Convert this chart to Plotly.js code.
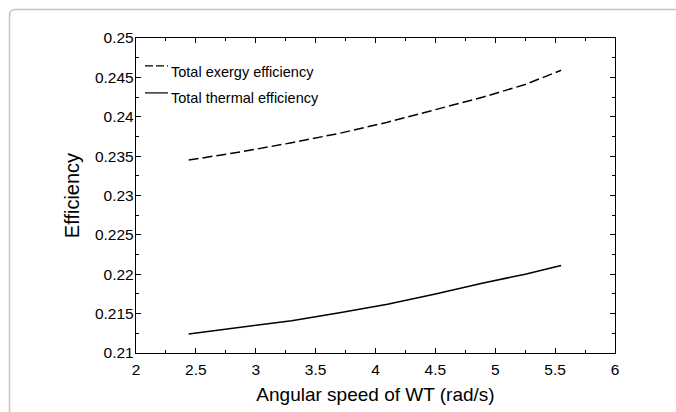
<!DOCTYPE html>
<html>
<head>
<meta charset="utf-8">
<script src="https://cdn.plot.ly/plotly-3.0.1.min.js"></script>
<style>html,body{margin:0;padding:0;background:#fff;}</style>
</head>
<body>
<div id="chart" style="width:676px;height:412px;"></div>
<script>
// ---- data ----
const angularSpeed = [2.44, 2.9, 3.3, 3.7, 4.1, 4.5, 4.9, 5.25, 5.55];
const exergyEff   = [0.2345, 0.2356, 0.2367, 0.2379, 0.2393, 0.2409, 0.2425, 0.2441, 0.2459];
const thermalEff  = [0.2124, 0.2133, 0.2141, 0.2151, 0.2162, 0.2175, 0.2189, 0.2200, 0.2211];
const seriesNames = ["Total exergy efficiency", "Total thermal efficiency"];
const xTitle = "Angular speed of WT (rad/s)";
const yTitle = "Efficiency";

// ---- layout geometry (pixels) ----
const W = 676, H = 412;
const L = 136, R = 615, T = 38, B = 353.5;
const pw = R - L, ph = B - T;
const px = x => (x - L) / pw;
const py = y => (B - y) / ph;

const font = "Arial, 'Liberation Sans', Helvetica, sans-serif";

const traces = [
  {x: angularSpeed, y: exergyEff, name: seriesNames[0], mode: "lines",
   line: {color: "#000", width: 1.5, dash: "10px,4px"}, showlegend: false},
  {x: angularSpeed, y: thermalEff, name: seriesNames[1], mode: "lines",
   line: {color: "#000", width: 1.5}, showlegend: false}
];

// outer card border (rounded top-left corner)
const bx = px(9.5), by = py(9.5), rx = 6 / pw, ry = 6 / ph;
const borderPath = `M ${bx},${py(430)} L ${bx},${by - ry} Q ${bx},${by} ${bx + rx},${by} L ${px(690)},${by}`;

const axisCommon = {
  showline: true, linecolor: "#000", linewidth: 1.2, mirror: "allticks",
  ticks: "inside", ticklen: 5, tickwidth: 1, tickcolor: "#000",
  showgrid: false, zeroline: false,
  tickfont: {family: font, size: 15.5, color: "#000"}
};

const layout = {
  width: W, height: H,
  margin: {l: L, r: W - R, t: T, b: H - B, pad: 0},
  paper_bgcolor: "#fff", plot_bgcolor: "#fff",
  font: {family: font, color: "#000"},
  xaxis: Object.assign({}, axisCommon, {
    range: [2, 6], dtick: 0.5, tick0: 2, ticklabelstandoff: 2,
    minor: {ticks: "inside", ticklen: 3, dtick: 0.25, tickcolor: "#000", showgrid: false},
    title: {text: xTitle, font: {family: font, size: 19, color: "#000"}, standoff: 11}
  }),
  yaxis: Object.assign({}, axisCommon, {
    range: [0.21, 0.25], dtick: 0.005, tick0: 0.21, ticklabelstandoff: -2,
    minor: {ticks: "inside", ticklen: 3, dtick: 0.0025, tickcolor: "#000", showgrid: false},
    title: {text: yTitle, font: {family: font, size: 20, color: "#000"}, standoff: 10}
  }),
  shapes: [
    {type: "path", xref: "paper", yref: "paper", path: borderPath,
     line: {color: "#c4c4c4", width: 1.5}},
    {type: "line", xref: "paper", yref: "paper", x0: px(145), x1: px(168), y0: py(66), y1: py(66),
     line: {color: "#000", width: 1.2, dash: "8px,3px"}},
    {type: "line", xref: "paper", yref: "paper", x0: px(145), x1: px(168), y0: py(93), y1: py(93),
     line: {color: "#000", width: 1.2}}
  ],
  annotations: [
    {xref: "paper", yref: "paper", x: px(169), y: py(71.7), xanchor: "left", yanchor: "middle",
     text: seriesNames[0], showarrow: false, font: {family: font, size: 14.5, color: "#000"}},
    {xref: "paper", yref: "paper", x: px(169), y: py(98), xanchor: "left", yanchor: "middle",
     text: seriesNames[1], showarrow: false, font: {family: font, size: 14.5, color: "#000"}}
  ],
  showlegend: false
};

Plotly.newPlot("chart", traces, layout, {displayModeBar: false, staticPlot: true});
</script>
</body>
</html>
